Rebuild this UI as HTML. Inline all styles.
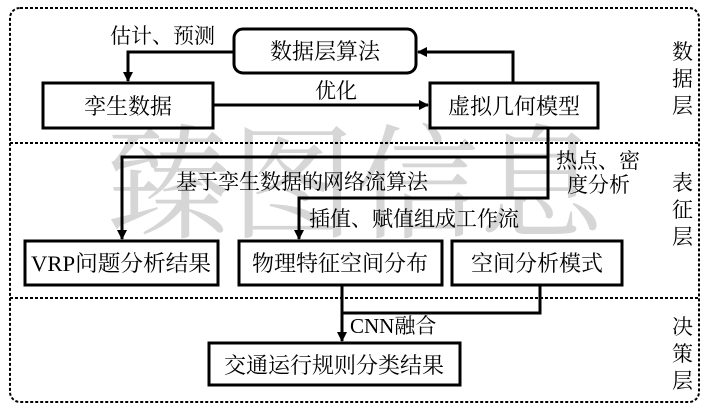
<!DOCTYPE html>
<html><head><meta charset="utf-8"><style>
html,body{margin:0;padding:0;background:#fff;}
svg text{font-family:"Liberation Serif","Noto Serif CJK SC",serif;fill:#000;}
</style></head><body>
<svg width="710" height="412" viewBox="0 0 710 412" xmlns="http://www.w3.org/2000/svg">
<defs><marker id="a" markerWidth="10" markerHeight="10" refX="9" refY="5" orient="auto" markerUnits="userSpaceOnUse"><path d="M0,0 L10,5 L0,10 z" fill="#000"/></marker></defs>
<text x="355" y="228" font-size="124" text-anchor="middle" style="fill:#d6d6d6" font-family="Noto Serif CJK SC, serif">臻图信息</text>
<rect x="10" y="8" width="689" height="394" rx="10" fill="none" stroke="#000" stroke-width="2" stroke-dasharray="3,2"/>
<line x1="10" y1="143" x2="699" y2="143" stroke="#000" stroke-width="2" stroke-dasharray="3,2"/>
<line x1="10" y1="298" x2="699" y2="298" stroke="#000" stroke-width="2" stroke-dasharray="3,2"/>
<g fill="none" stroke="#000" stroke-width="3">
<rect x="234" y="29" width="182" height="44" rx="9"/>
<rect x="43" y="83" width="170" height="45"/>
<rect x="430" y="83" width="168" height="45"/>
<rect x="25" y="241" width="193" height="44"/>
<rect x="239" y="241" width="203" height="44"/>
<rect x="452" y="241" width="170" height="44"/>
<rect x="209" y="343" width="251" height="42"/>
<polyline points="213,105 428,105" marker-end="url(#a)"/>
<polyline points="513,83 513,52 418,52" marker-end="url(#a)"/>
<polyline points="234,52 128,52 128,81" marker-end="url(#a)"/>
<polyline points="548,128 548,157 122,157 122,239" marker-end="url(#a)"/>
<polyline points="548,157 548,198 299,198 299,239" marker-end="url(#a)"/>
<polyline points="342,285 342,341" marker-end="url(#a)"/>
<polyline points="540,285 540,313 342,313"/>
</g>
<g font-size="22">
<text x="325" y="59" text-anchor="middle">数据层算法</text>
<text x="128" y="114" text-anchor="middle">孪生数据</text>
<text x="514" y="114" text-anchor="middle">虚拟几何模型</text>
<text x="121" y="271" text-anchor="middle" textLength="180" lengthAdjust="spacingAndGlyphs">VRP问题分析结果</text>
<text x="340" y="271" text-anchor="middle">物理特征空间分布</text>
<text x="537" y="271" text-anchor="middle">空间分析模式</text>
<text x="334" y="373" text-anchor="middle">交通运行规则分类结果</text>
</g>
<g font-size="21">
<text x="110" y="43">估计、预测</text>
<text x="315" y="98">优化</text>
<text x="176" y="189">基于孪生数据的网络流算法</text>
<text x="556" y="168">热点、密</text>
<text x="567" y="192">度分析</text>
<text x="309" y="226">插值、赋值组成工作流</text>
<text x="350" y="333">CNN融合</text>
<text x="672" y="59">数</text><text x="672" y="86">据</text><text x="672" y="113">层</text>
<text x="672" y="190">表</text><text x="672" y="217">征</text><text x="672" y="244">层</text>
<text x="672" y="334">决</text><text x="672" y="361">策</text><text x="672" y="388">层</text>
</g>
</svg>
</body></html>
